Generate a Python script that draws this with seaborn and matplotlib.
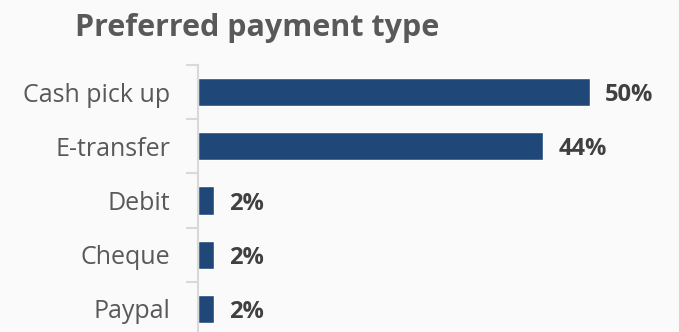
import matplotlib
matplotlib.use("Agg")
import matplotlib.pyplot as plt
from matplotlib.ticker import FixedLocator
import pandas as pd
import seaborn as sns

categories = ["Cash pick up", "E-transfer", "Debit", "Cheque", "Paypal"]
shares = [50, 44, 2, 2, 2]
value_labels = ["50%", "44%", "2%", "2%", "2%"]

sns.set_theme(style="white")
plt.rcParams["font.family"] = ["Open Sans", "DejaVu Sans"]

df = pd.DataFrame({"type": categories, "share": shares})

fig = plt.figure(figsize=(6.79, 3.32), dpi=100)
fig.patch.set_facecolor("#fafafa")
W, H = 679, 332
ax = fig.add_axes([198 / W, (H - 336) / H, (679 - 198) / W, (336 - 65) / H])
ax.set_facecolor("none")

sns.barplot(data=df, y="type", x="share", color="#1F4778", saturation=1,
            width=0.52, orient="h", ax=ax)

ax.set_xlim(0, 61.3)
ax.set_ylim(len(categories) - 0.5, -0.5)
ax.set_xlabel("")
ax.set_ylabel("")
ax.set_xticks([])

for s in ["top", "right", "bottom"]:
    ax.spines[s].set_visible(False)
ax.spines["left"].set_color("#d9d9d9")
ax.spines["left"].set_linewidth(1.5)

ax.tick_params(axis="y", which="major", length=0, pad=20, labelsize=18,
               labelcolor="#595959")
ax.yaxis.set_minor_locator(FixedLocator([i - 0.5 for i in range(len(categories) + 1)]))
ax.tick_params(axis="y", which="minor", length=9, width=1.5, color="#d9d9d9",
               direction="out", left=True)

for i, (v, lab) in enumerate(zip(shares, value_labels)):
    ax.text(v + 1.9, i, lab, va="center_baseline", ha="left", fontsize=17,
            fontweight="bold", color="#404040")

fig.text(75 / W, 1 - 28 / H, "Preferred payment type", fontsize=22,
         fontweight="bold", color="#595959", ha="left", va="center")

fig.savefig("out.png", dpi=100, facecolor=fig.get_facecolor())
